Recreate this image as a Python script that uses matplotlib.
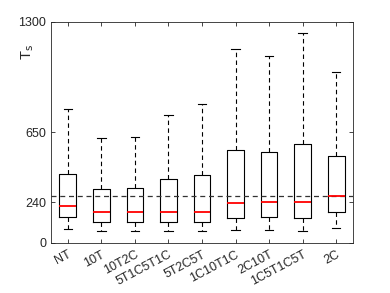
import matplotlib
matplotlib.use("Agg")
import matplotlib.pyplot as plt

plt.rcParams['font.family'] = ['Liberation Sans', 'DejaVu Sans']

labels = ['NT', '10T', '10T2C', '5T1C5T1C', '5T2C5T', '1C10T1C', '2C10T', '1C5T1C5T', '2C']
whislo = [82, 70, 70, 70, 70, 75, 76, 72, 86]
q1 = [151, 125, 125, 125, 124, 147, 153, 145, 182]
med = [219, 181, 181, 182, 184, 235, 241, 239, 276]
q3 = [406, 320, 322, 375, 402, 545, 533, 582, 512]
whishi = [786, 618, 624, 751, 816, 1143, 1100, 1235, 1004]
ref_line = 276
yticks = [0, 240, 650, 1300]

stats = []
for i in range(len(labels)):
    stats.append(dict(label=labels[i], whislo=whislo[i], q1=q1[i], med=med[i],
                      q3=q3[i], whishi=whishi[i], fliers=[]))

fig = plt.figure(figsize=(3.9, 2.93), dpi=100)
ax = fig.add_axes([0.131, 0.171, 0.774, 0.754])

ax.bxp(stats, widths=0.5, showfliers=False,
       boxprops=dict(color='black', linewidth=0.8),
       whiskerprops=dict(color='black', linewidth=0.8, linestyle=(0, (4, 3))),
       capprops=dict(color='black', linewidth=0.8),
       medianprops=dict(color='red', linewidth=1.3))

ax.axhline(ref_line, color='#333333', linewidth=0.9, linestyle=(0, (4, 3)))

ax.set_xlim(0.5, len(labels) + 0.5)
ax.set_ylim(0, 1300)
ax.set_yticks(yticks)
ax.set_xticks(range(1, len(labels) + 1))
ax.set_xticklabels(labels, rotation=28, ha='right', rotation_mode='anchor')

ax.tick_params(direction='in', length=3, width=0.6, top=True, right=True,
               labelsize=9, colors='#262626')
ax.tick_params(axis='x', pad=4)
for s in ax.spines.values():
    s.set_color('#262626')
    s.set_linewidth(0.6)

ax.set_ylabel(r'T$_{\mathrm{s}}$', fontsize=10.5, color='#262626')
ax.yaxis.set_label_coords(-0.05, 0.865)

fig.savefig('out.png', dpi=100)
